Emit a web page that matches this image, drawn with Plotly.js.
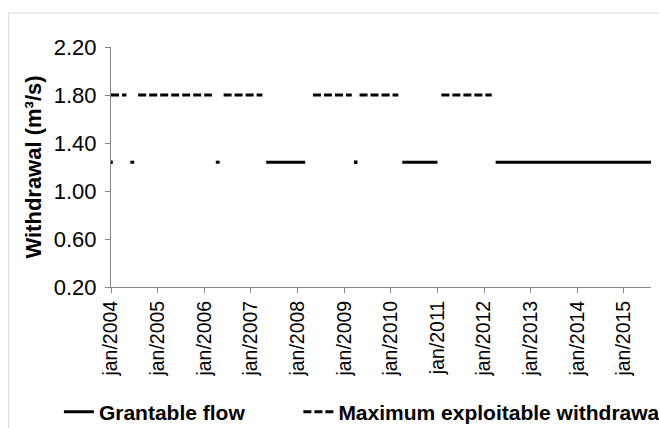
<!DOCTYPE html>
<html>
<head>
<meta charset="utf-8">
<script src="https://cdn.plot.ly/plotly-3.0.1.min.js"></script>
<style>html,body{margin:0;padding:0;background:#fff;}#chart{width:659px;height:428px;}</style>
</head>
<body>
<div id="chart"></div>
<script>
// ---- data ----
const startYear = 2004;
const monthCount = 140; // jan/2004 .. aug/2015
const _ = null;
const G = 1.24;  // grantable flow level
const M = 1.80;  // maximum exploitable withdrawal level

const grantableFlow = [
  G,_,_,_,_,G,G,_,_,_,_,_,   // 2004
  _,_,_,_,_,_,_,_,_,_,_,_,   // 2005
  _,_,_,G,G,_,_,_,_,_,_,_,   // 2006
  _,_,_,_,G,G,G,G,G,G,G,G,   // 2007
  G,G,G,_,_,_,_,_,_,_,_,_,   // 2008
  _,_,_,G,_,_,_,_,_,_,_,_,   // 2009
  _,_,_,G,G,G,G,G,G,G,G,G,   // 2010
  G,_,_,_,_,_,_,_,_,_,_,_,   // 2011
  _,_,_,G,G,G,G,G,G,G,G,G,   // 2012
  G,G,G,G,G,G,G,G,G,G,G,G,   // 2013
  G,G,G,G,G,G,G,G,G,G,G,G,   // 2014
  G,G,G,G,G,G,G,G            // 2015
];
const maxWithdrawal = [
  M,M,M,M,M,_,_,M,M,M,M,M,   // 2004
  M,M,M,M,M,M,M,M,M,M,M,M,   // 2005
  M,M,M,_,_,M,M,M,M,M,M,M,   // 2006
  M,M,M,M,_,_,_,_,_,_,_,_,   // 2007
  _,_,_,_,M,M,M,M,M,M,M,M,   // 2008
  M,M,M,_,M,M,M,M,M,M,M,M,   // 2009
  M,M,M,_,_,_,_,_,_,_,_,_,   // 2010
  _,M,M,M,M,M,M,M,M,M,M,M,   // 2011
  M,M,M,_,_,_,_,_,_,_,_,_,   // 2012
  _,_,_,_,_,_,_,_,_,_,_,_,   // 2013
  _,_,_,_,_,_,_,_,_,_,_,_,   // 2014
  _,_,_,_,_,_,_,_            // 2015
];
const tickYears = [2004,2005,2006,2007,2008,2009,2010,2011,2012,2013,2014,2015];
const tickLabels = ["jan/2004","jan/2005","jan/2006","jan/2007","jan/2008","jan/2009","jan/2010","jan/2011","jan/2012","jan/2013","jan/2014","jan/2015"];
const yTicks = [0.2,0.6,1.0,1.4,1.8,2.2];
const seriesNames = ["Grantable flow","Maximum exploitable withdrawal"];

// ---- build ----
function pad(n){return (n<10?"0":"")+n;}
const months = [];
for (let i=0;i<monthCount;i++){
  const y = startYear + Math.floor(i/12), m = i%12 + 1;
  months.push(y+"-"+pad(m)+"-01");
}
function isolated(vals){
  const xs=[], ys=[];
  vals.forEach((v,i)=>{
    if (v!==null && (i===0||vals[i-1]===null) && (i===vals.length-1||vals[i+1]===null)){xs.push(months[i]);ys.push(v);}
  });
  return {xs,ys};
}
const isoG = isolated(grantableFlow), isoM = isolated(maxWithdrawal);

const FONT = "Liberation Sans, Arial, sans-serif";
const axisGray = "#868686";

const traces = [
  {x:months, y:grantableFlow, name:seriesNames[0], mode:"lines", connectgaps:false,
   line:{color:"#000", width:3}, legend:"legend"},
  {x:months, y:maxWithdrawal, name:seriesNames[1], mode:"lines", connectgaps:false,
   line:{color:"#000", width:3, dash:"8px,3px"}, legend:"legend2"},
  {x:isoG.xs, y:isoG.ys, mode:"markers", showlegend:false, hoverinfo:"skip",
   marker:{color:"#000", size:3.5, symbol:"square"}},
  {x:isoM.xs, y:isoM.ys, mode:"markers", showlegend:false, hoverinfo:"skip",
   marker:{color:"#000", size:3.5, symbol:"square"}}
];

const layout = {
  width:659, height:428,
  margin:{l:111, r:8, t:47, b:141, autoexpand:false},
  paper_bgcolor:"#fff", plot_bgcolor:"#fff",
  font:{family:FONT, size:22, color:"#000"},
  showlegend:true,
  xaxis:{
    type:"date",
    range:[months[0], months[monthCount-1]],
    tickmode:"array",
    tickvals:tickYears.map(y=>y+"-01-01"),
    ticktext:tickLabels,
    tickangle:-90,
    ticks:"outside", ticklen:5, tickcolor:axisGray, tickwidth:1,
    showline:true, linecolor:axisGray, linewidth:1,
    showgrid:false, zeroline:false, automargin:false,
    tickfont:{family:FONT, size:19.5, color:"#000"}
  },
  yaxis:{
    range:[0.2,2.2],
    tickmode:"array", tickvals:yTicks, tickformat:".2f",
    ticks:"outside", ticklen:5, tickcolor:axisGray, tickwidth:1,
    showline:true, linecolor:axisGray, linewidth:1,
    showgrid:false, zeroline:false, automargin:false,
    ticklabelstandoff:4,
    tickfont:{family:FONT, size:22, color:"#000"},
    title:{text:"Withdrawal (m³/s)", font:{family:FONT, size:22, color:"#000", weight:"bold"}, standoff:6}
  },
  legend:{orientation:"h", x:-0.0965, xanchor:"left", y:-0.521, yanchor:"middle",
    font:{family:FONT, size:21, color:"#000", weight:"bold"}, bgcolor:"rgba(0,0,0,0)", borderwidth:0},
  legend2:{orientation:"h", x:0.347, xanchor:"left", y:-0.521, yanchor:"middle",
    font:{family:FONT, size:21, color:"#000", weight:"bold"}, bgcolor:"rgba(0,0,0,0)", borderwidth:0},
  shapes:[
    {type:"line", xref:"paper", yref:"paper", x0:-0.1895, x1:-0.1895, y0:-1.0, y1:1.1417,
     line:{color:"#d9d9d9", width:1}, layer:"below"},
    {type:"line", xref:"paper", yref:"paper", x0:-0.1895, x1:1.3, y0:1.1417, y1:1.1417,
     line:{color:"#d9d9d9", width:1}, layer:"below"}
  ]
};

Plotly.newPlot("chart", traces, layout, {staticPlot:true, displayModeBar:false});
</script>
</body>
</html>
